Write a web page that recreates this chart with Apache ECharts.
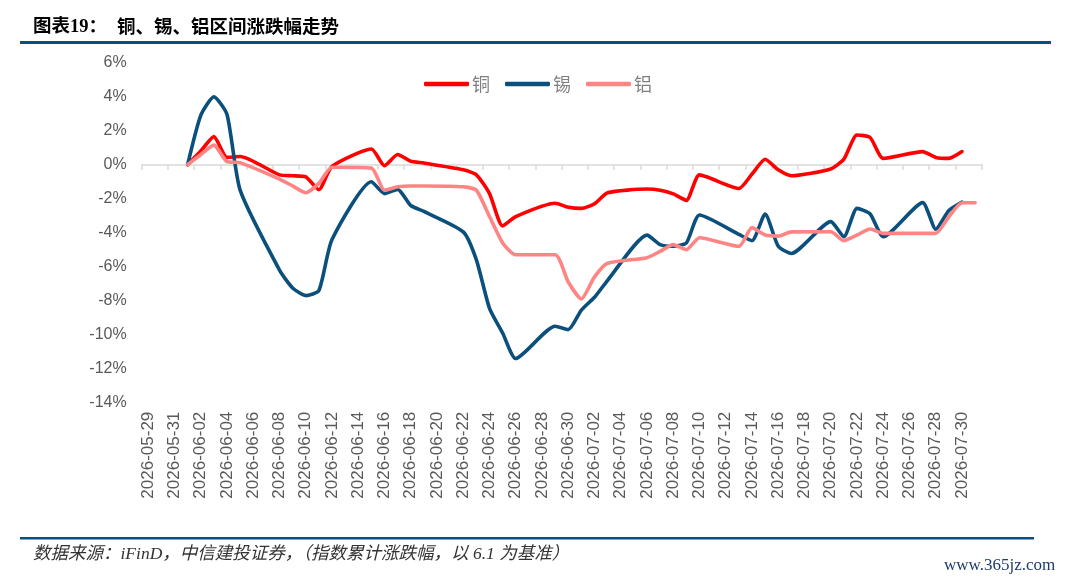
<!DOCTYPE html>
<html>
<head>
<meta charset="utf-8">
<script src="https://cdn.jsdelivr.net/npm/echarts@6/dist/echarts.min.js"></script>
<style>
  html, body { margin: 0; padding: 0; background: #fff; }
  #chart { width: 1080px; height: 581px; }
</style>
</head>
<body>
<div id="chart"></div>
<script>
// 交易日（以 6.1 为基准）
const tradeDates = [
  '2026-06-01', '2026-06-02', '2026-06-03', '2026-06-04', '2026-06-05',
  '2026-06-08', '2026-06-09', '2026-06-10', '2026-06-11', '2026-06-12',
  '2026-06-15', '2026-06-16', '2026-06-17', '2026-06-18', '2026-06-19',
  '2026-06-22', '2026-06-23', '2026-06-24', '2026-06-25', '2026-06-26',
  '2026-06-29', '2026-06-30', '2026-07-01', '2026-07-02', '2026-07-03',
  '2026-07-06', '2026-07-07', '2026-07-08', '2026-07-09', '2026-07-10',
  '2026-07-13', '2026-07-14', '2026-07-15', '2026-07-16', '2026-07-17',
  '2026-07-20', '2026-07-21', '2026-07-22', '2026-07-23', '2026-07-24',
  '2026-07-27', '2026-07-28', '2026-07-29', '2026-07-30', '2026-07-31'
];

// 累计涨跌幅（%）
const copper = [
  0, 0.8, 1.65, 0.43, 0.48,
  -0.6, -0.65, -0.72, -1.47, -0.1,
  0.92, -0.06, 0.6, 0.2, 0.1,
  -0.3, -0.6, -1.7, -3.6, -3.05,
  -2.27, -2.5, -2.57, -2.3, -1.65,
  -1.43, -1.5, -1.72, -2.1, -0.6,
  -1.4, -0.55, 0.32, -0.3, -0.65,
  -0.25, 0.33, 1.75, 1.6, 0.37,
  0.77, 0.43, 0.37, 0.77, null
];
const tin = [
  0, 2.9, 4.0, 2.95, -1.5,
  -6.2, -7.25, -7.7, -7.4, -4.4,
  -1.0, -1.7, -1.45, -2.4, -2.75,
  -3.95, -5.6, -8.45, -9.9, -11.4,
  -9.5, -9.7, -8.55, -7.8, -6.8,
  -4.14, -4.7, -4.8, -4.6, -2.96,
  -4.1, -4.47, -2.9, -4.8, -5.22,
  -3.35, -4.24, -2.57, -2.9, -4.24,
  -2.23, -3.8, -2.7, -2.2, null
];
const aluminium = [
  0, 0.6, 1.15, 0.18, 0.12,
  -0.85, -1.25, -1.65, -1.1, -0.15,
  -0.2, -1.5, -1.3, -1.25, -1.25,
  -1.3, -1.5, -3.05, -4.6, -5.3,
  -5.3, -6.9, -7.9, -6.6, -5.8,
  -5.47, -5.1, -4.7, -5.0, -4.3,
  -4.8, -3.7, -4.14, -4.2, -3.95,
  -3.94, -4.47, -4.14, -3.78, -4.04,
  -4.04, -4.04, -3.06, -2.24, -2.24
];

// 坐标轴（日历日）
const axisStart = '2026-05-29';
const axisEnd = '2026-07-31';
const yTicks = { min: -14, max: 6, step: 2 };

function buildCalendar(start, end) {
  const days = [];
  const d = new Date(start + 'T00:00:00Z');
  const last = new Date(end + 'T00:00:00Z');
  while (d <= last) {
    days.push(d.toISOString().slice(0, 10));
    d.setUTCDate(d.getUTCDate() + 1);
  }
  return days;
}
const calendarDays = buildCalendar(axisStart, axisEnd);

function toPairs(values) {
  const out = [];
  values.forEach((v, i) => {
    if (v !== null && v !== undefined) out.push([tradeDates[i], v]);
  });
  return out;
}

const chart = echarts.init(document.getElementById('chart'));

const labelColor = '#595959';
const navy = '#0B4F7C';

function lineSeries(name, values, color) {
  return {
    name: name,
    type: 'line',
    xAxisIndex: 0,
    data: toPairs(values),
    smooth: 0.2,
    symbol: 'none',
    lineStyle: { color: color, width: 3.6, cap: 'round', join: 'round' },
    itemStyle: { color: color },
    emphasis: { disabled: true },
    animation: false
  };
}

const option = {
  backgroundColor: '#fff',
  animation: false,
  grid: {
    left: 141.7,
    right: 98.3,
    top: 62.7,
    bottom: 178.3,
    containLabel: false,
    outerBoundsMode: 'none'
  },
  legend: {
    left: 419,
    top: 70,
    icon: 'roundRect',
    itemWidth: 45,
    itemHeight: 4.5,
    itemGap: 15,
    textStyle: {
      color: '#7F7F7F',
      fontSize: 18,
      fontFamily: '"Noto Sans CJK SC", sans-serif',
      padding: [0, 0, 0, -2]
    },
    data: ['铜', '锡', '铝']
  },
  xAxis: [
    {
      // 底部日期标签
      type: 'category',
      data: calendarDays,
      boundaryGap: true,
      position: 'bottom',
      axisLine: { show: false, onZero: false },
      axisTick: { show: false },
      axisLabel: {
        interval: 1,
        rotate: 90,
        margin: 9,
        color: labelColor,
        fontSize: 17,
        fontFamily: '"Liberation Sans", Arial, sans-serif'
      },
      splitLine: { show: false }
    },
    {
      // 零轴线及刻度
      type: 'category',
      data: calendarDays,
      boundaryGap: true,
      position: 'top',
      axisLine: { show: true, onZero: true, lineStyle: { color: '#D9D9D9', width: 1.5 } },
      axisTick: { show: true, inside: true, interval: 1, length: 5, lineStyle: { color: '#D9D9D9', width: 1.5 } },
      axisLabel: { show: false },
      splitLine: { show: false }
    }
  ],
  yAxis: {
    type: 'value',
    min: yTicks.min,
    max: yTicks.max,
    interval: yTicks.step,
    axisLine: { show: false },
    axisTick: { show: false },
    splitLine: { show: false },
    axisLabel: {
      formatter: '{value}%',
      margin: 15,
      color: labelColor,
      fontSize: 16,
      fontFamily: '"Liberation Sans", Arial, sans-serif'
    }
  },
  series: [
    lineSeries('铜', copper, '#FF0000'),
    lineSeries('锡', tin, navy),
    lineSeries('铝', aluminium, '#FF8585')
  ],
  graphic: [
    {
      type: 'text',
      left: 33,
      top: 18,
      style: {
        text: '图表19：',
        fill: '#000',
        font: 'bold 18.5px "Liberation Serif", "Noto Sans CJK SC", serif'
      }
    },
    {
      type: 'text',
      left: 117,
      top: 17,
      style: {
        text: '铜、锡、铝区间涨跌幅走势',
        fill: '#000',
        font: 'bold 18.5px "Noto Sans CJK SC", sans-serif'
      }
    },
    {
      type: 'rect',
      shape: { x: 20, y: 41, width: 1031, height: 3 },
      style: { fill: navy }
    },
    {
      type: 'rect',
      shape: { x: 20, y: 537, width: 1014, height: 2.5 },
      style: { fill: navy }
    },
    {
      type: 'text',
      left: 33,
      top: 546,
      style: {
        text: '数据来源：iFinD，中信建投证券，（指数累计涨跌幅，以 6.1 为基准）',
        fill: '#333',
        font: 'italic 17.5px "Liberation Serif", "Noto Sans CJK SC", serif'
      }
    },
    {
      type: 'text',
      left: 944,
      top: 557,
      style: {
        text: 'www.365jz.com',
        fill: '#1F3A6B',
        font: '17px "Liberation Serif", serif'
      }
    }
  ]
};

chart.setOption(option);

window.addEventListener('resize', () => {
  chart.resize();
});
</script>
</body>
</html>
